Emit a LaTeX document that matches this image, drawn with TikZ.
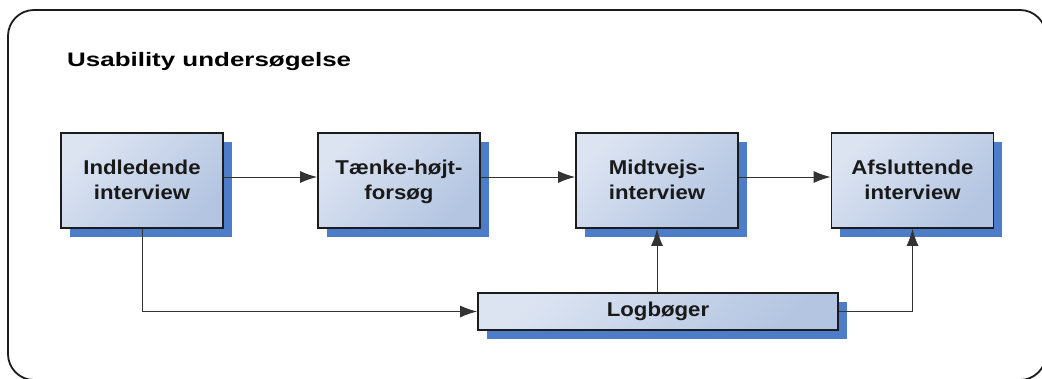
\documentclass[tikz,border=0pt]{standalone}
\usepackage{fontspec}
\setmainfont{Liberation Sans}
\newfontfamily\boxfont{Liberation Sans}[FakeStretch=1.11]
\newfontfamily\titlefont{Liberation Sans}[FakeStretch=1.33]
\usetikzlibrary{arrows.meta,shadows}
\definecolor{boxlight}{HTML}{DCE4F2}
\definecolor{boxdark}{HTML}{B3C5E1}
\definecolor{shadowblue}{HTML}{4D7DC8}
\definecolor{edge}{HTML}{1C1C1C}
\tikzset{
  stage/.style={draw=edge, line width=1.8pt, top color=boxlight, bottom color=boxdark,
    shading angle=45, inner sep=0pt, align=center,
    font=\boxfont\bfseries\fontsize{20}{25}\selectfont, text=black!90,
    text height=39.5pt, text depth=2.5pt,
    general shadow={fill=shadowblue, shadow xshift=8.5pt, shadow yshift=-8.5pt}},
  bigstage/.style={stage, minimum width=162pt, minimum height=95pt},
  logstage/.style={stage, minimum width=360pt, minimum height=37pt,
    text height=14.5pt, text depth=4pt},
  flow/.style={draw=black!80, line width=1pt, -{Latex[length=17pt,width=12pt]}}
}
\begin{document}
\begin{tikzpicture}[x=1pt,y=-1pt]
\useasboundingbox (0,0) rectangle (1042,378);
\clip (0,0) rectangle (1042,378);
% outer frame
\draw[line width=1.8pt, draw=edge, rounded corners=26pt] (8,10) rectangle (1046,380);
% heading
\node[anchor=base west, font=\titlefont\bfseries\fontsize{19.5}{23}\selectfont, inner sep=0pt]
  (title) at (67,66.7) {Usability undersøgelse};
% stages
\node[bigstage] (ind) at (142,180.5) {Indledende\\interview};
\node[bigstage] (tae) at (399,180.5) {Tænke-højt-\\forsøg};
\node[bigstage] (mid) at (657,180.5) {Midtvejs-\\interview};
\node[bigstage] (afs) at (912.5,180.5) {Afsluttende\\interview};
\node[logstage] (log) at (658,311.5) {Logbøger};
% connectors
\draw[flow] ([yshift=3.5pt]ind.east) -- ([yshift=3.5pt]tae.west);
\draw[flow] ([yshift=3.5pt]tae.east) -- ([yshift=3.5pt]mid.west);
\draw[flow] ([yshift=3.5pt]mid.east) -- ([yshift=3.5pt]afs.west);
\draw[flow] (ind.south) |- (log.west);
\draw[flow] (log.north -| mid.south) -- (mid.south);
\draw[flow] (log.east) -| (afs.south);
\end{tikzpicture}
\end{document}
